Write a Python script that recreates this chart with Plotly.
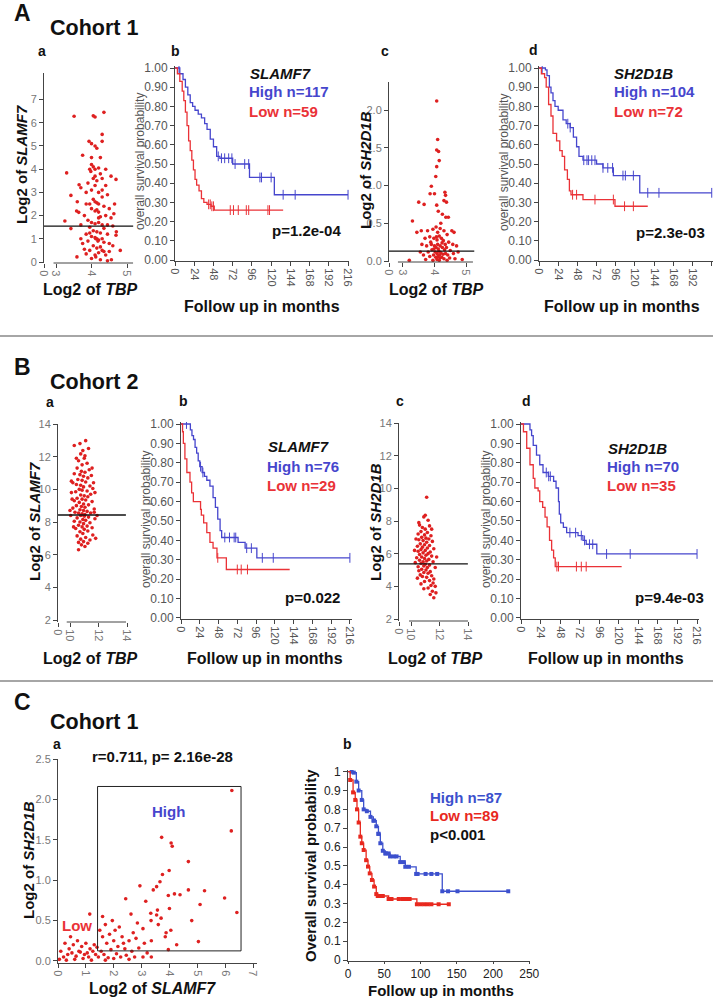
import plotly.graph_objects as go

W, H = 717, 998
FONT = "Arial, Liberation Sans, Helvetica, sans-serif"
BLUE = "rgb(70,70,205)"
RED = "rgb(234,50,55)"
DOT = "rgb(222,32,32)"
AXC = "#444"

# ---------------- data ----------------
KM_XTICKS = [0, 24, 48, 72, 96, 120, 144, 168, 192, 216]
KM_YTICKS = [0.0, 0.1, 0.2, 0.3, 0.4, 0.5, 0.6, 0.7, 0.8, 0.9, 1.0]

# Panel A a : TBP vs SLAMF7 (cohort 1)
AA_PTS = [(3.51, 6.28), (4.05, 6.3), (4.1, 6.25), (4.35, 6.45), (3.93, 5.2), (4.0, 5.1), (4.3, 5.5),
          (4.15, 4.9), (3.30, 3.84), (3.42, 2.87), (3.65, 3.33), (3.25, 1.77), (3.42, 1.44), (3.58, 2.2),
          (3.64, 2.14), (4.69, 3.56), (4.63, 2.08), (4.69, 1.15), (4.81, 0.5), (3.59, 0.22), (4.12, 0.22),
          (4.56, 0.1), (4.0, 4.2), (4.05, 4.1), (4.1, 4.0), (3.98, 3.9), (4.2, 4.05), (4.25, 3.8),
          (4.3, 3.6), (4.1, 3.7), (3.9, 3.4), (4.15, 3.5), (4.4, 3.3), (4.45, 2.9), (4.0, 3.1),
          (3.85, 3.0), (4.2, 3.0), (4.3, 2.8), (4.05, 2.7), (4.1, 2.6), (4.15, 2.55), (4.2, 2.5),
          (3.95, 2.5), (4.35, 2.4), (4.5, 2.3), (4.0, 2.3), (4.1, 2.2), (4.15, 2.25), (4.2, 2.15),
          (3.8, 2.0), (4.25, 1.95), (4.4, 2.0), (4.55, 1.9), (3.9, 1.8), (4.0, 1.7), (4.1, 1.65),
          (4.2, 1.7), (4.3, 1.6), (3.7, 1.6), (3.95, 1.5), (4.35, 1.45), (4.6, 1.55), (4.05, 1.35),
          (4.15, 1.3), (4.25, 1.25), (3.85, 1.2), (4.45, 1.2), (4.0, 1.1), (4.1, 1.05), (4.15, 1.0),
          (4.2, 0.95), (4.18, 0.9), (4.12, 1.0), (3.9, 0.9), (4.35, 0.85), (4.5, 0.8), (3.75, 0.8),
          (4.05, 0.7), (4.25, 0.65), (4.3, 0.5), (4.35, 0.45), (4.2, 0.4), (3.95, 0.5), (4.1, 0.3),
          (4.4, 0.3), (3.85, 0.35), (4.0, 0.15), (4.25, 0.1), (4.45, 0.05), (3.7, 1.0), (4.6, 0.7),
          (4.55, 3.7), (3.75, 4.6), (4.25, 4.5), (4.0, 4.5), (4.1, 3.3), (4.4, 4.0), (3.6, 2.6),
          (3.7, 3.2), (4.65, 2.5), (4.7, 1.3), (4.3, 5.2), (4.1, 5.0), (3.95, 4.0), (4.05, 3.6),
          (4.3, 3.1), (4.2, 1.9), (3.85, 2.5), (4.45, 1.6), (4.3, 1.0), (3.95, 1.25), (4.15, 0.6),
          (4.5, 0.45), (3.8, 0.55)]
AA_MEDIAN = 1.55

# Panel A c : TBP vs SH2D1B (cohort 1)
AC_PTS = [(4.07, 2.12), (4.10, 1.61), (4.07, 1.47), (4.13, 1.45), (4.15, 1.33), (4.07, 1.25), (4.04, 1.12),
          (3.90, 0.99), (4.33, 0.91), (4.35, 0.87), (3.86, 0.89), (4.00, 0.89), (4.30, 0.80), (4.38, 0.78),
          (3.50, 0.78), (3.67, 0.75), (4.07, 0.74), (4.36, 0.58), (4.44, 0.58), (3.30, 0.53), (4.20, 0.50),
          (4.25, 0.62), (4.12, 0.66), (4.55, 0.40), (4.62, 0.38), (3.44, 0.38), (3.58, 0.40), (3.78, 0.40),
          (3.95, 0.42), (4.05, 0.45), (4.18, 0.43), (4.30, 0.40), (4.40, 0.35), (3.70, 0.30), (3.85, 0.32),
          (3.98, 0.30), (4.08, 0.28), (4.15, 0.33), (4.22, 0.30), (4.28, 0.27), (4.45, 0.25), (4.58, 0.22),
          (4.70, 0.20), (3.60, 0.22), (3.75, 0.20), (3.90, 0.22), (4.00, 0.20), (4.05, 0.18), (4.10, 0.22),
          (4.12, 0.16), (4.18, 0.20), (4.25, 0.18), (4.32, 0.15), (4.38, 0.18), (4.50, 0.14), (3.55, 0.12),
          (3.80, 0.12), (3.92, 0.15), (4.02, 0.12), (4.08, 0.10), (4.14, 0.13), (4.20, 0.11), (4.27, 0.09),
          (4.35, 0.10), (4.42, 0.08), (4.60, 0.10), (4.75, 0.12), (3.65, 0.08), (3.85, 0.06), (3.97, 0.08),
          (4.04, 0.05), (4.11, 0.06), (4.17, 0.04), (4.23, 0.05), (4.30, 0.03), (4.48, 0.04), (4.88, 0.02),
          (3.20, 0.01), (3.72, 0.02), (3.95, 0.01), (4.08, 0.02), (4.15, 0.01), (4.40, 0.01), (4.65, 0.03),
          (3.88, 0.25), (4.10, 0.38), (4.24, 0.24), (3.98, 0.16), (4.34, 0.22), (4.06, 0.32), (4.16, 0.08)]
AC_MEDIAN = 0.13

# Panel B a : TBP vs SLAMF7 (cohort 2)
BA_PTS = [(11.1, 12.98), (10.3, 12.68), (10.9, 12.37), (10.75, 12.17), (11.05, 12.05), (11.0, 11.9),
          (10.6, 11.75), (11.2, 11.6), (10.85, 11.5), (10.5, 11.3), (11.35, 11.2), (10.8, 11.1), (11.05, 11.05),
          (10.3, 10.95), (10.7, 10.9), (11.5, 10.85), (10.95, 10.8), (11.25, 10.7), (10.55, 10.6), (10.85, 10.55),
          (11.1, 10.45), (10.2, 10.4), (10.45, 10.3), (10.75, 10.25), (11.4, 10.2), (10.95, 10.15), (11.6, 10.05),
          (10.65, 10.0), (10.85, 9.95), (11.2, 9.9), (10.4, 9.85), (10.1, 9.8), (11.45, 9.7), (10.75, 9.65),
          (11.0, 9.6), (11.25, 9.55), (10.5, 9.45), (10.85, 9.4), (11.1, 9.35), (10.3, 9.3), (11.55, 9.25),
          (10.65, 9.2), (10.95, 9.1), (11.3, 9.05), (10.45, 9.0), (10.8, 8.95), (11.05, 8.9), (10.2, 8.85),
          (11.7, 8.8), (10.7, 8.75), (10.95, 8.7), (11.2, 8.65), (10.35, 8.6), (10.6, 8.55), (11.45, 8.55),
          (10.85, 8.5), (11.05, 8.45), (10.05, 8.4), (10.75, 8.4), (11.0, 8.35), (11.3, 8.3), (10.5, 8.25),
          (11.75, 8.2), (10.9, 8.15), (11.1, 8.1), (10.3, 8.05), (10.7, 8.0), (11.4, 7.95), (10.95, 7.9),
          (10.6, 7.8), (11.2, 7.75), (10.85, 7.7), (11.55, 7.65), (10.4, 7.6), (11.0, 7.55), (11.25, 7.45),
          (10.7, 7.4), (10.9, 7.3), (11.6, 7.2), (10.5, 7.15), (11.1, 7.05), (10.75, 6.95), (11.4, 6.9),
          (10.95, 6.8), (10.6, 6.75), (11.25, 6.7), (10.8, 6.6), (11.05, 6.5), (10.6, 6.3), (11.8, 7.0),
          (10.25, 7.7), (11.7, 8.6), (10.15, 9.4), (11.75, 9.8), (10.1, 10.5), (11.55, 11.3), (10.45, 11.9),
          (11.3, 12.5), (10.7, 12.8), (11.9, 8.4), (10.0, 8.7), (11.65, 10.4)]
BA_MEDIAN = 8.43

# Panel B c : TBP vs SH2D1B (cohort 2)
BC_PTS = [(11.1, 9.45), (11.0, 8.35), (10.9, 8.25), (11.2, 8.05), (10.6, 7.75), (10.8, 7.6), (11.3, 7.7),
          (11.0, 7.5), (10.7, 7.35), (11.15, 7.3), (10.5, 7.2), (10.95, 7.15), (11.4, 7.1), (10.75, 7.0),
          (11.05, 6.95), (11.25, 6.9), (10.55, 6.85), (10.85, 6.8), (11.5, 6.75), (11.1, 6.7), (10.65, 6.6),
          (10.95, 6.55), (11.3, 6.5), (10.45, 6.45), (10.8, 6.4), (11.15, 6.35), (11.6, 6.3), (10.7, 6.25),
          (11.0, 6.2), (10.5, 6.15), (11.35, 6.1), (10.85, 6.05), (11.2, 6.0), (10.6, 5.95), (11.05, 5.9),
          (11.45, 5.85), (10.75, 5.8), (10.4, 5.75), (10.95, 5.7), (11.25, 5.65), (10.6, 5.6), (11.1, 5.55),
          (10.85, 5.5), (11.55, 5.5), (10.3, 5.45), (10.7, 5.4), (11.0, 5.35), (11.3, 5.3), (10.9, 5.25),
          (10.5, 5.2), (11.15, 5.15), (11.7, 5.15), (10.75, 5.05), (11.05, 5.0), (10.55, 4.95), (11.35, 4.9),
          (10.9, 4.85), (11.2, 4.8), (10.65, 4.7), (11.45, 4.65), (10.8, 4.6), (11.1, 4.55), (10.45, 4.5),
          (11.6, 4.45), (11.3, 4.35), (10.95, 4.3), (11.55, 4.2), (10.7, 4.15), (11.4, 4.05), (11.7, 4.0),
          (11.2, 3.9), (10.9, 3.85), (11.5, 3.7), (11.75, 3.6), (11.35, 3.5), (11.6, 3.3), (10.35, 6.9),
          (11.8, 5.8), (10.55, 7.9), (11.45, 7.5), (10.25, 6.2)]
BC_MEDIAN = 5.37

# Panel C a : SLAMF7 vs SH2D1B (cohort 1)
CA_PTS = [(6.24, 2.11), (6.22, 1.61), (3.72, 1.53), (4.06, 1.46), (4.10, 1.42), (4.68, 1.23), (3.75, 1.07),
          (3.99, 1.12), (2.94, 0.93), (3.66, 0.98), (3.42, 0.88), (3.54, 0.92), (5.26, 0.87), (4.68, 0.88),
          (4.18, 0.83), (4.38, 0.82), (3.96, 0.81), (5.98, 0.78), (2.43, 0.77), (3.15, 0.74), (5.10, 0.70),
          (4.00, 0.65), (3.57, 0.63), (6.42, 0.60), (3.33, 0.59), (3.54, 0.57), (2.62, 0.58), (1.14, 0.58),
          (4.80, 0.50), (3.70, 0.53), (2.85, 0.47), (3.34, 0.50), (3.88, 0.35), (4.05, 0.38), (5.04, 0.24),
          (4.26, 0.20), (3.96, 0.14), (3.85, 0.30), (3.05, 0.40), (2.70, 0.35), (2.20, 0.42), (1.70, 0.45),
          (2.05, 0.38), (2.30, 0.30), (2.55, 0.25), (2.80, 0.28), (3.10, 0.22), (3.35, 0.25), (3.60, 0.45),
          (1.50, 0.38), (1.30, 0.20), (1.60, 0.30), (1.85, 0.33), (2.00, 0.25), (2.15, 0.18), (2.40, 0.15),
          (2.65, 0.12), (2.90, 0.16), (3.20, 0.10), (3.05, 0.05), (2.75, 0.05), (2.45, 0.07), (2.10, 0.09),
          (1.90, 0.14), (1.75, 0.22), (1.55, 0.12), (1.35, 0.08), (1.15, 0.15), (1.00, 0.22), (0.85, 0.18),
          (0.70, 0.25), (0.55, 0.20), (0.40, 0.15), (0.25, 0.22), (0.10, 0.12), (0.20, 0.05), (0.35, 0.08),
          (0.50, 0.10), (0.65, 0.06), (0.80, 0.11), (0.95, 0.08), (1.10, 0.05), (1.25, 0.12), (1.45, 0.05),
          (1.65, 0.08), (1.80, 0.04), (2.00, 0.03), (2.25, 0.05), (2.55, 0.02), (3.35, 0.05), (0.05, 0.02),
          (0.30, 0.01), (0.60, 0.02), (0.90, 0.03), (1.20, 0.01), (1.70, 0.01), (0.45, 0.30), (0.75, 0.12),
          (1.05, 0.10), (1.40, 0.17), (2.35, 0.22), (1.95, 0.50), (1.60, 0.55)]
CA_BOX = (1.42, 0.125, 6.57, 2.16)  # SLAMF7 / SH2D1B "High" thresholds

# Kaplan-Meier curves: event times, survival after event, end of follow-up, censor times
AB_HIGH_T = [0, 6, 10, 13, 16, 19, 22, 25, 29, 33, 37, 40, 44, 48, 52, 56, 72, 93, 124]
AB_HIGH_S = [1.0, 0.97, 0.94, 0.90, 0.86, 0.82, 0.80, 0.78, 0.76, 0.74, 0.71, 0.68, 0.63, 0.59, 0.54, 0.53, 0.50, 0.43, 0.34]
AB_HIGH_END = 216
AB_HIGH_CENS = [5, 54, 58, 62, 67, 71, 75, 87, 92, 106, 108, 120, 135, 150, 216]
AB_LOW_T = [0, 3, 6, 9, 11, 13, 15, 17, 19, 21, 23, 25, 27, 30, 33, 36, 40, 45, 49]
AB_LOW_S = [1.0, 0.97, 0.93, 0.88, 0.83, 0.77, 0.70, 0.62, 0.57, 0.52, 0.47, 0.42, 0.39, 0.36, 0.32, 0.30, 0.29, 0.28, 0.26]
AB_LOW_END = 135
AB_LOW_CENS = [42, 44, 46, 48, 69, 73, 79, 89, 92, 116, 118]

AD_HIGH_T = [0, 8, 10, 13, 15, 17.5, 20, 24, 30, 34, 39, 43, 47, 50, 55, 72, 80, 93, 126]
AD_HIGH_S = [1.0, 0.99, 0.96, 0.90, 0.87, 0.83, 0.80, 0.78, 0.73, 0.71, 0.69, 0.64, 0.59, 0.54, 0.52, 0.50, 0.48, 0.44, 0.35]
AD_HIGH_END = 216
AD_HIGH_CENS = [4, 36, 39, 56, 60, 62, 66, 70, 80, 86, 92, 105, 108, 118, 136, 150, 216]
AD_LOW_T = [0, 3, 7, 9, 12, 15, 17.5, 22, 26, 29, 32, 35.5, 38, 40, 55, 95]
AD_LOW_S = [1.0, 0.97, 0.95, 0.90, 0.81, 0.75, 0.66, 0.62, 0.57, 0.54, 0.47, 0.42, 0.36, 0.34, 0.315, 0.28]
AD_LOW_END = 136
AD_LOW_CENS = [42, 47, 70, 93, 107, 118]

BB_HIGH_T = [0, 12, 14, 16, 18, 20, 22, 24, 27, 30, 33, 37, 41, 44, 47, 50, 52, 73, 82, 97]
BB_HIGH_S = [1.0, 0.97, 0.94, 0.92, 0.88, 0.85, 0.81, 0.78, 0.75, 0.73, 0.71, 0.68, 0.62, 0.57, 0.51, 0.45, 0.415, 0.39, 0.36, 0.31]
BB_HIGH_END = 216
BB_HIGH_CENS = [7, 25, 28, 56, 62, 68, 70, 84, 90, 104, 118, 216]
BB_LOW_T = [0, 2, 3, 5, 7.5, 11.5, 13.6, 15.8, 25, 26, 29, 33, 37, 41, 46, 58]
BB_LOW_S = [1.0, 0.96, 0.90, 0.82, 0.75, 0.70, 0.645, 0.60, 0.56, 0.53, 0.49, 0.44, 0.39, 0.36, 0.31, 0.25]
BB_LOW_END = 139
BB_LOW_CENS = [47, 72, 77, 85]

BD_HIGH_T = [0, 11, 13, 15, 19, 23, 27, 33.5, 40, 43, 46, 47, 48.7, 52, 56, 70, 76, 80, 93]
BD_HIGH_S = [1.0, 0.97, 0.94, 0.89, 0.84, 0.79, 0.75, 0.73, 0.705, 0.67, 0.60, 0.535, 0.49, 0.467, 0.44, 0.425, 0.40, 0.38, 0.33]
BD_HIGH_END = 216
BD_HIGH_CENS = [31, 34, 36, 60, 67, 74, 78, 84, 88, 105, 134, 216]
BD_LOW_T = [0, 3, 7, 11, 15, 17, 21, 23, 26.6, 29.5, 32, 35, 37.6, 40, 42]
BD_LOW_S = [1.0, 0.96, 0.875, 0.79, 0.72, 0.67, 0.655, 0.60, 0.57, 0.52, 0.47, 0.40, 0.35, 0.31, 0.265]
BD_LOW_END = 123.5
BD_LOW_CENS = [44, 46, 68, 74, 80]

CB_HIGH_T = [0, 8, 11.5, 14.7, 19, 21.6, 26, 31, 35, 39, 42, 44.6, 48, 51.5, 58, 72, 79, 94, 130]
CB_HIGH_S = [1.0, 0.995, 0.947, 0.90, 0.85, 0.80, 0.79, 0.76, 0.74, 0.71, 0.67, 0.62, 0.58, 0.566, 0.55, 0.52, 0.495, 0.457, 0.365]
CB_HIGH_END = 221
CB_HIGH_CENS = [5, 36, 42, 52, 56, 63, 67, 77, 84, 96, 107, 115, 123, 138, 151, 221]
CB_LOW_T = [0, 3, 7, 10, 12.4, 14.7, 17, 19, 21.6, 25, 27.6, 30, 33, 36, 39, 41, 56, 95]
CB_LOW_S = [1.0, 0.956, 0.89, 0.85, 0.80, 0.73, 0.655, 0.62, 0.584, 0.53, 0.496, 0.46, 0.425, 0.39, 0.35, 0.34, 0.324, 0.296]
CB_LOW_END = 139
CB_LOW_CENS = [44, 48, 60, 70, 75, 80, 85, 100, 105, 110, 115, 125, 139]

# ---------------- helpers ----------------
fig = go.Figure()
layout = {}
shapes = []
annotations = []


def fx(a, b):
    return [a / W, b / W]


def fy(top, bot):
    return [1 - bot / H, 1 - top / H]


def sfx(i):
    return "" if i == 1 else str(i)


def axes(i, xdom, ydom, xr, yr, xt, yt):
    s = sfx(i)
    base = dict(showgrid=False, zeroline=False, ticks="outside", ticklen=4, tickwidth=1,
                tickcolor=AXC, showline=True, linecolor=AXC, linewidth=1, fixedrange=True,
                automargin=False, tickfont=dict(size=12, color="#666", family=FONT))
    layout["xaxis" + s] = {**base, "domain": fx(*xdom), "range": xr, "anchor": "y" + s, **xt}
    layout["yaxis" + s] = {**base, "domain": fy(*ydom), "range": yr, "anchor": "x" + s, **yt}


def note(x, y, text, size=15, color="#111", xanchor="center", yanchor="middle", angle=0):
    annotations.append(dict(x=x / W, y=1 - y / H, xref="paper", yref="paper", text=text,
                            showarrow=False, textangle=angle, xanchor=xanchor, yanchor=yanchor,
                            font=dict(size=size, color=color, family=FONT)))


def surv_at(t, s, tc):
    v = s[0]
    for ti, si in zip(t, s):
        if ti <= tc:
            v = si
    return v


def km(i, t, s, end, cens, color, square=False):
    s_ = sfx(i)
    xs = list(t) + [end]
    ys = list(s) + [s[-1]]
    fig.add_trace(go.Scatter(x=xs, y=ys, mode="lines", line=dict(color=color, width=1.3, shape="hv"),
                             xaxis="x" + s_, yaxis="y" + s_, hoverinfo="skip"))
    cy = [surv_at(t, s, c) for c in cens]
    if square:
        fig.add_trace(go.Scatter(x=list(t[1:]) + list(cens), y=list(s[1:]) + cy, mode="markers",
                                 marker=dict(symbol="square", size=4, color=color),
                                 xaxis="x" + s_, yaxis="y" + s_, hoverinfo="skip"))
    else:
        fig.add_trace(go.Scatter(x=cens, y=cy, mode="markers",
                                 marker=dict(symbol="line-ns", size=7, line=dict(width=1, color=color)),
                                 xaxis="x" + s_, yaxis="y" + s_, hoverinfo="skip"))


def dots(i, pts):
    s_ = sfx(i)
    fig.add_trace(go.Scatter(x=[p[0] for p in pts], y=[p[1] for p in pts], mode="markers",
                             marker=dict(size=3.6, color=DOT), xaxis="x" + s_, yaxis="y" + s_,
                             hoverinfo="skip"))


def median_line(i, val, x1=0.98):
    s_ = sfx(i)
    shapes.append(dict(type="line", xref="x" + s_ + " domain", yref="y" + s_, x0=0, x1=x1,
                       y0=val, y1=val, line=dict(color="#111", width=1.3)))


def broken_xline(i, a, b):
    s_ = sfx(i)
    shapes.append(dict(type="line", xref="x" + s_, yref="y" + s_ + " domain", x0=a, x1=b,
                       y0=0, y1=0, line=dict(color=AXC, width=1)))


KM_X = dict(tickvals=KM_XTICKS, tickangle=90, tickfont=dict(size=11, color="#555", family=FONT))
KM_Y = dict(tickvals=KM_YTICKS, tickformat=".2f", tickfont=dict(size=12, color="#555", family=FONT))
SC_TF = dict(size=11, color="#777", family=FONT)

# ---------------- panel A ----------------
axes(1, (44, 135), (73, 263), [2.662, 5.225], [-0.043, 8.146],
     dict(showline=False, tickvals=[2.662, 3, 4, 5], ticktext=["0", "3", "4", "5"], tickangle=90, tickfont=SC_TF),
     dict(tickvals=[0, 1, 2, 3, 4, 5, 6, 7], tickfont=SC_TF))
dots(1, AA_PTS)
median_line(1, AA_MEDIAN)
broken_xline(1, 2.93, 5.17)

axes(2, (175, 349), (66, 261), [0, 217.2], [-0.005, 1.0104], KM_X, KM_Y)
km(2, AB_HIGH_T, AB_HIGH_S, AB_HIGH_END, AB_HIGH_CENS, BLUE)
km(2, AB_LOW_T, AB_LOW_S, AB_LOW_END, AB_LOW_CENS, RED)

axes(3, (389, 476), (82, 262), [2.556, 5.317], [-0.013, 2.371],
     dict(showline=False, tickvals=[2.556, 3, 4, 5], ticktext=["0", "3", "4", "5"], tickangle=90, tickfont=SC_TF),
     dict(tickvals=[0, 0.5, 1.0, 1.5, 2.0], tickformat=".1f", tickfont=SC_TF))
dots(3, AC_PTS)
median_line(3, AC_MEDIAN)
broken_xline(3, 2.84, 5.22)

axes(4, (539, 713), (66, 261), [0, 217.6], [-0.005, 1.0104], KM_X, KM_Y)
km(4, AD_HIGH_T, AD_HIGH_S, AD_HIGH_END, AD_HIGH_CENS, BLUE)
km(4, AD_LOW_T, AD_LOW_S, AD_LOW_END, AD_LOW_CENS, RED)

# ---------------- panel B ----------------
axes(5, (58, 128), (424, 622), [9.158, 14.07], [1.878, 14.0],
     dict(showline=False, tickvals=[9.158, 10, 12, 14], ticktext=["0", "10", "12", "14"], tickangle=90, tickfont=SC_TF),
     dict(tickvals=[2, 4, 6, 8, 10, 12, 14], tickfont=SC_TF))
dots(5, BA_PTS)
median_line(5, BA_MEDIAN, 0.97)
broken_xline(5, 9.77, 13.93)

axes(6, (181, 352), (422, 619), [0, 218.7], [-0.0052, 1.0103], KM_X, KM_Y)
km(6, BB_HIGH_T, BB_HIGH_S, BB_HIGH_END, BB_HIGH_CENS, BLUE)
km(6, BB_LOW_T, BB_LOW_S, BB_LOW_END, BB_LOW_CENS, RED)

axes(7, (399, 470), (423, 621), [9.158, 14.14], [1.878, 14.0],
     dict(showline=False, tickvals=[9.158, 10, 12, 14], ticktext=["0", "10", "12", "14"], tickangle=90, tickfont=SC_TF),
     dict(tickvals=[2, 4, 6, 8, 10, 12, 14], tickfont=SC_TF))
dots(7, BC_PTS)
median_line(7, BC_MEDIAN, 0.97)
broken_xline(7, 9.86, 14.0)

axes(8, (521, 699), (422, 619), [0, 218.4], [-0.0052, 1.0103], KM_X, KM_Y)
km(8, BD_HIGH_T, BD_HIGH_S, BD_HIGH_END, BD_HIGH_CENS, BLUE)
km(8, BD_LOW_T, BD_LOW_S, BD_LOW_END, BD_LOW_CENS, RED)

# ---------------- panel C ----------------
axes(9, (58, 257), (759, 963), [0, 7.143], [-0.025, 2.5],
     dict(tickvals=[0, 1, 2, 3, 4, 5, 6, 7], tickangle=90, tickfont=SC_TF),
     dict(tickvals=[0, 0.5, 1.0, 1.5, 2.0, 2.5], tickformat=".1f", tickfont=SC_TF))
dots(9, CA_PTS)
shapes.append(dict(type="rect", xref="x9", yref="y9", x0=CA_BOX[0], y0=CA_BOX[1], x1=CA_BOX[2],
                   y1=CA_BOX[3], line=dict(color="#222", width=1)))

CB_Y = [0, 0.1, 0.2, 0.3, 0.4, 0.5, 0.6, 0.7, 0.8, 0.9, 1]
CB_TF = dict(size=12, color="#222", family=FONT)
axes(10, (348, 530), (770, 961), [0, 251], [-0.0053, 1.009],
     dict(tickvals=[0, 50, 100, 150, 200, 250], tickfont=CB_TF, ticklen=2),
     dict(tickvals=CB_Y, ticktext=[str(v) for v in CB_Y], tickfont=CB_TF))
km(10, CB_HIGH_T, CB_HIGH_S, CB_HIGH_END, CB_HIGH_CENS, "rgb(60,80,205)", square=True)
km(10, CB_LOW_T, CB_LOW_S, CB_LOW_END, CB_LOW_CENS, "rgb(232,40,30)", square=True)

# ---------------- separators ----------------
for yy in (336, 681):
    shapes.append(dict(type="line", xref="paper", yref="paper", x0=0, x1=713 / W,
                       y0=1 - yy / H, y1=1 - yy / H, line=dict(color="#888", width=1.5)))

# ---------------- texts ----------------
B = "<b>%s</b>"
# section headers
note(22, 13, B % "A", 23)
note(48, 28, B % "Cohort 1", 21.5, xanchor="left")
note(22, 367, B % "B", 23)
note(48, 382, B % "Cohort 2", 21.5, xanchor="left")
note(22, 702, B % "C", 23)
note(48, 722, B % "Cohort 1", 21.5, xanchor="left")
# sub-panel letters
for (x, y, t) in [(42, 51, "a"), (175, 51, "b"), (385, 51, "c"), (533, 50, "d"),
                  (50, 402, "a"), (183, 401, "b"), (400, 401, "c"), (526, 401, "d"),
                  (57, 744, "a"), (347, 744, "b")]:
    note(x, y, B % t, 14)

# axis titles
YT = 15
note(21, 165, "<b>Log2 of <i>SLAMF7</i></b>", YT, angle=-90)
note(90, 290, "<b>Log2 of <i>TBP</i></b>", 16)
note(140, 162, "overall survival probability", 12, "#555", angle=-90)
note(262, 306, B % "Follow up in months", 16)
note(365, 170, "<b>Log2 of <i>SH2D1B</i></b>", YT, angle=-90)
note(436, 290, "<b>Log2 of <i>TBP</i></b>", 16)
note(504, 162, "overall survival probability", 12, "#555", angle=-90)
note(622, 306, B % "Follow up in months", 16)

note(34, 522, "<b>Log2 of <i>SLAMF7</i></b>", YT, angle=-90)
note(90, 658, "<b>Log2 of <i>TBP</i></b>", 16)
note(146, 520, "overall survival probability", 12, "#555", angle=-90)
note(265, 658, B % "Follow up in months", 16)
note(375, 522, "<b>Log2 of <i>SH2D1B</i></b>", YT, angle=-90)
note(435, 658, "<b>Log2 of <i>TBP</i></b>", 16)
note(486, 520, "overall survival probability", 12, "#555", angle=-90)
note(606, 658, B % "Follow up in months", 16)

note(28, 860, "<b>Log2 of <i>SH2D1B</i></b>", YT, angle=-90)
note(152, 988, "<b>Log2 of <i>SLAMF7</i></b>", 16)
note(310, 866, B % "Overall survival probability", 15, angle=-90)
note(441, 990, B % "Follow up in months", 15)

# legends / stats
note(248, 73, "<b><i>SLAMF7</i></b>", 15, xanchor="left")
note(247, 92, B % "High n=117", 15, BLUE, xanchor="left")
note(247, 111, B % "Low n=59", 15, RED, xanchor="left")
note(343, 231, B % "p=1.2e-04", 15, xanchor="right")

note(612, 73, "<b><i>SH2D1B</i></b>", 15, xanchor="left")
note(612, 92, B % "High n=104", 15, BLUE, xanchor="left")
note(612, 111, B % "Low n=72", 15, RED, xanchor="left")
note(707, 232, B % "p=2.3e-03", 15, xanchor="right")

note(266, 447, "<b><i>SLAMF7</i></b>", 15, xanchor="left")
note(265, 466, B % "High n=76", 15, BLUE, xanchor="left")
note(265, 485, B % "Low n=29", 15, RED, xanchor="left")
note(342, 597, B % "p=0.022", 15, xanchor="right")

note(606, 448, "<b><i>SH2D1B</i></b>", 15, xanchor="left")
note(605, 467, B % "High n=70", 15, BLUE, xanchor="left")
note(605, 486, B % "Low n=35", 15, RED, xanchor="left")
note(706, 597, B % "p=9.4e-03", 15, xanchor="right")

note(90, 756, B % "r=0.711, p= 2.16e-28", 15, xanchor="left")
note(168, 811, B % "High", 15, BLUE)
note(77, 925, B % "Low", 15, RED)

note(428, 797, B % "High n=87", 15, "rgb(60,80,205)", xanchor="left")
note(428, 815, B % "Low n=89", 15, "rgb(232,40,30)", xanchor="left")
note(428, 834, B % "p&lt;0.001", 15, xanchor="left")

fig.update_layout(width=W, height=H, margin=dict(l=0, r=0, t=0, b=0, pad=0, autoexpand=False),
                  showlegend=False, paper_bgcolor="white", plot_bgcolor="white", font=dict(family=FONT),
                  shapes=shapes, annotations=annotations, **layout)
fig.write_html("out.html", config={"displayModeBar": False},
               post_script="document.body.style.margin='0';document.body.style.padding='0';")
